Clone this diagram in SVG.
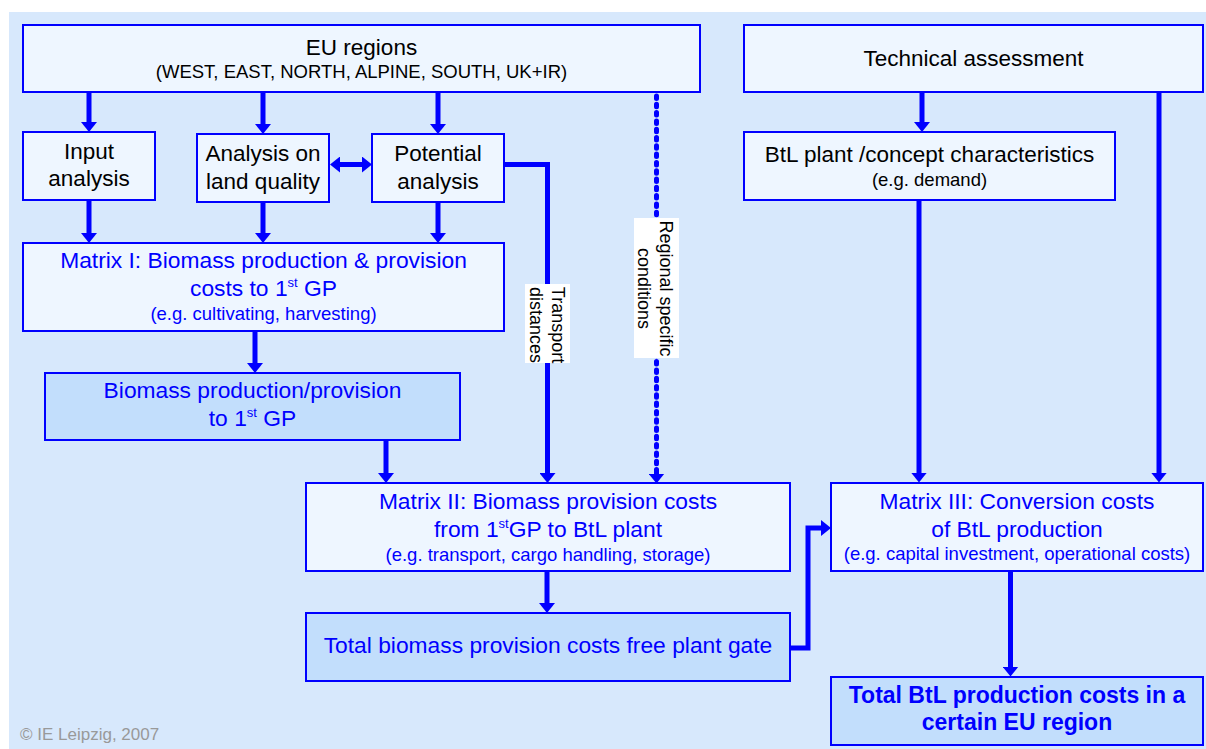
<svg xmlns="http://www.w3.org/2000/svg" width="1206" height="749" viewBox="0 0 1206 749">
<style>
.box{fill:#EEF6FF;stroke:#0000FF;stroke-width:2}
.dark{fill:#C2DEFC;stroke:#0000FF;stroke-width:2}
text{font-family:"Liberation Sans",Arial,sans-serif;text-anchor:middle}
.t{font-size:22.5px;fill:#000}
.s{font-size:18.5px;fill:#000}
.bt{font-size:22.8px;fill:#0000FF}
.bs{font-size:18.5px;fill:#0000FF}
.bb{font-size:23px;font-weight:bold;fill:#0000FF}
.sup{font-size:13px}
.c{fill:none;stroke:#0000FF;stroke-width:5;marker-end:url(#ah)}
.lbl{fill:#FFFFFF}
.rt{font-size:18px;fill:#000}
</style>
<defs>
<marker id="ah" viewBox="0 0 10 16" refX="0.5" refY="8" markerWidth="10" markerHeight="16" markerUnits="userSpaceOnUse" orient="auto-start-reverse">
<path d="M0,0 L10,8 L0,16 z" fill="#0000FF"/>
</marker>
</defs>
<rect x="0" y="0" width="1206" height="749" fill="#FFFFFF"/>
<rect x="9" y="12" width="1197" height="737" fill="#D7E8FC"/>

<g id="connectors">
<path class="c" d="M89,93 V122.5"/>
<path class="c" d="M263,93 V124.5"/>
<path class="c" d="M438,93 V124.5"/>
<path class="c" d="M89,200 V233.5"/>
<path class="c" d="M263,202 V233.5"/>
<path class="c" d="M438,202 V233.5"/>
<path class="c" d="M339.5,164.5 H362.5" style="marker-start:url(#ah)"/>
<path class="c" d="M504,164.5 H547.5 V473.5"/>
<path d="M656.5,96 V472" fill="none" stroke="#0000FF" stroke-width="5" stroke-linecap="round" stroke-dasharray="2.5 5.8"/>
<path d="M656.5,472 V474" class="c"/>
<path class="c" d="M255,331 V363.5"/>
<path class="c" d="M386,441 V473.5"/>
<path class="c" d="M547,571 V603.5"/>
<path class="c" d="M790,648 H808 V528 H821.5"/>
<path class="c" d="M922,93 V122.5"/>
<path class="c" d="M1159,93 V473"/>
<path class="c" d="M919,200 V473"/>
<path class="c" d="M1010.5,571 V667"/>
<rect class="lbl" x="525" y="284" width="45" height="79"/>
<text class="rt" transform="translate(551.7,325) rotate(90)"><tspan x="0" y="0">Transport</tspan><tspan x="0" y="21.7">distances</tspan></text>
<rect class="lbl" x="634" y="218" width="45" height="140"/>
<text class="rt" transform="translate(660,288.5) rotate(90)"><tspan x="0" y="0">Regional specific</tspan><tspan x="0" y="21.7">conditions</tspan></text>
</g>

<g id="eu-regions">
<rect class="box" x="23" y="25" width="677" height="67"/>
<text class="t" x="361.5" y="55">EU regions</text>
<text class="s" x="361.5" y="78.3">(WEST, EAST, NORTH, ALPINE, SOUTH, UK+IR)</text>
</g>
<g id="technical-assessment">
<rect class="box" x="744" y="25" width="459" height="67"/>
<text class="t" x="973.5" y="65.7">Technical assessment</text>
</g>
<g id="input-analysis">
<rect class="box" x="23" y="132" width="132" height="68"/>
<text class="t" x="89" y="159">Input</text>
<text class="t" x="89" y="185.7">analysis</text>
</g>
<g id="land-quality">
<rect class="box" x="197" y="134" width="132" height="68"/>
<text class="t" x="263" y="161.3">Analysis on</text>
<text class="t" x="263" y="188.7">land quality</text>
</g>
<g id="potential-analysis">
<rect class="box" x="372" y="134" width="132" height="68"/>
<text class="t" x="438" y="161.3">Potential</text>
<text class="t" x="438" y="188.7">analysis</text>
</g>
<g id="btl-plant">
<rect class="box" x="744" y="132" width="371" height="68"/>
<text class="t" x="929.5" y="161.7">BtL plant /concept characteristics</text>
<text class="s" x="929.5" y="186">(e.g. demand)</text>
</g>
<g id="matrix-1">
<rect class="box" x="23" y="243" width="481" height="88"/>
<text class="bt" x="263.5" y="268.3">Matrix I: Biomass production &amp; provision</text>
<text class="bt" x="263.5" y="296">costs to 1<tspan class="sup" dy="-9">st</tspan><tspan dy="9"> GP</tspan></text>
<text class="bs" x="263.5" y="320">(e.g. cultivating, harvesting)</text>
</g>
<g id="biomass-production">
<rect class="dark" x="45" y="373" width="415" height="67"/>
<text class="bt" x="252.5" y="397.7">Biomass production/provision</text>
<text class="bt" x="252.5" y="426">to 1<tspan class="sup" dy="-9">st</tspan><tspan dy="9"> GP</tspan></text>
</g>
<g id="matrix-2">
<rect class="box" x="306" y="483" width="484" height="88"/>
<text class="bt" x="548" y="509">Matrix II: Biomass provision costs</text>
<text class="bt" x="548" y="536.7">from 1<tspan class="sup" dy="-9">st</tspan><tspan dy="9">GP to BtL plant</tspan></text>
<text class="bs" x="548" y="560.7">(e.g. transport, cargo handling, storage)</text>
</g>
<g id="total-biomass">
<rect class="dark" x="306" y="613" width="484" height="68"/>
<text class="bt" x="548" y="653.3">Total biomass provision costs free plant gate</text>
</g>
<g id="matrix-3">
<rect class="box" x="831" y="483" width="372" height="88"/>
<text class="bt" x="1017" y="509">Matrix III: Conversion costs</text>
<text class="bt" x="1017" y="536.7">of BtL production</text>
<text class="bs" x="1017" y="560">(e.g. capital investment, operational costs)</text>
</g>
<g id="total-btl">
<rect class="dark" x="831" y="677" width="372" height="68"/>
<text class="bb" x="1017" y="703.3">Total BtL production costs in a</text>
<text class="bb" x="1017" y="730">certain EU region</text>
</g>
<text x="20" y="740" style="text-anchor:start;font-size:17px;fill:#999999">© IE Leipzig, 2007</text>
</svg>
